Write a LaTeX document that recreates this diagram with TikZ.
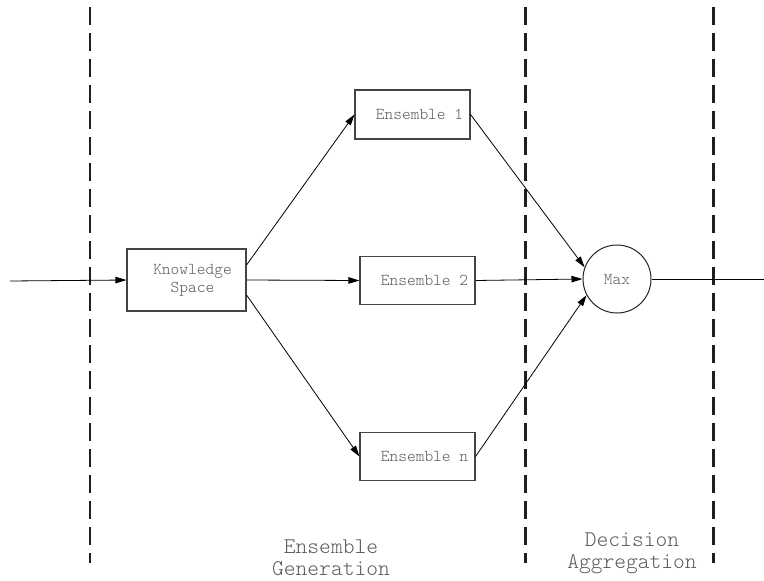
\documentclass[tikz,border=0pt]{standalone}
\usepackage{fontspec}
\newfontfamily\lighttt{Latin Modern Mono Light}
\usetikzlibrary{arrows.meta}
\definecolor{txt}{HTML}{5A5A5A}
\definecolor{frame}{HTML}{444444}
\begin{document}
\begin{tikzpicture}[x=1pt,y=-1pt,
  stagebox/.style={draw=frame, line width=1.1pt, fill=white, inner sep=0pt,
    text=txt, font=\lighttt\fontsize{16.6}{18}\selectfont, align=center},
  maxnode/.style={circle, draw=black!85, line width=1pt, fill=white, inner sep=0pt,
    minimum size=68pt, text=txt, font=\lighttt\fontsize{16.6}{18}\selectfont},
  phase/.style={dashed, dash pattern=on 18pt off 8pt, line width=2.8pt, draw=black!88},
  flow/.style={draw=black, line width=0.8pt, -{Triangle[length=11pt,width=6.5pt]}},
  plain/.style={draw=black, line width=0.8pt},
  caption/.style={text=txt, align=center, inner sep=0pt,
    font=\lighttt\fontsize{22.4}{22}\selectfont}]
  \useasboundingbox (0,0) rectangle (764,581);

  % phase separators
  \foreach \xx in {90,525.5,713.5}
    \draw[phase] (\xx,7) -- (\xx,563);

  % processing blocks
  \node[stagebox, minimum width=119pt, minimum height=62pt] (ks) at (186.5,280)
    {\hspace*{12pt}Knowledge\\\hspace*{12pt}Space};
  \node[stagebox, minimum width=115pt, minimum height=49pt] (e1) at (412.5,114.5)
    {\hspace*{14pt}Ensemble 1};
  \node[stagebox, minimum width=115pt, minimum height=48pt] (e2) at (417.5,280.5)
    {\hspace*{14pt}Ensemble 2};
  \node[stagebox, minimum width=115pt, minimum height=48pt] (en) at (417.5,456.5)
    {\hspace*{14pt}Ensemble n};
  \node[maxnode] (mx) at (617,279) {Max};

  \coordinate (in) at (10,281);
  \coordinate (out) at (764,279);

  % connectors
  \draw[flow] (in) -- (ks.west);
  \draw[flow] ([yshift=15pt]ks.east) -- (e1.west);
  \draw[flow] (ks.east) -- (e2.west);
  \draw[flow] ([yshift=-15pt]ks.east) -- (en.west);
  \draw[flow] (e1.east) -- (mx.160);
  \draw[flow] (e2.east) -- (mx.west);
  \draw[flow] (en.east) -- (mx.208);
  \draw[plain] (mx.east) -- (out);

  % phase captions
  \node[caption] (gen) at (331,558) {Ensemble\\Generation};
  \node[caption] (agg) at (632,553.5) {Decision\\Aggregation};
\end{tikzpicture}
\end{document}
